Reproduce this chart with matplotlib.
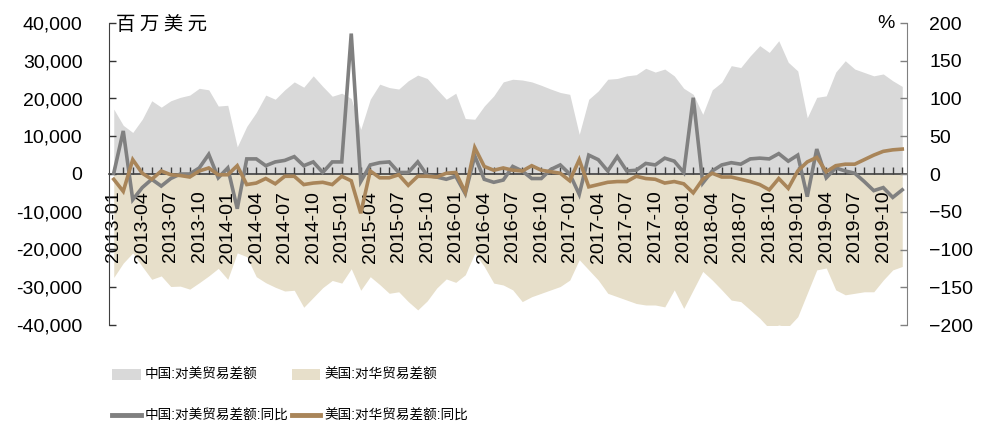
import matplotlib
matplotlib.use("Agg")
import matplotlib.pyplot as plt
from matplotlib.patches import Patch
from matplotlib.lines import Line2D
from matplotlib.ticker import FuncFormatter, MultipleLocator, FixedLocator
import numpy as np
import pandas as pd

# Monthly series, 2013-01 .. 2019-12
months = pd.period_range("2013-01", "2019-12", freq="M").strftime("%Y-%m").tolist()

# China: trade balance with the US (million USD)
cn_balance = [
    17200, 12900, 11000, 14500, 19400, 17700, 19400, 20300, 20900, 22700, 22300, 18000,
    18200, 7200, 12600, 16300, 20900, 19800, 22300, 24400, 23000, 26000, 23200, 20600,
    21400, 20000, 11800, 19800, 23800, 22900, 22500, 24700, 26200, 25300, 22500, 19800,
    21400, 14700, 14500, 18000, 20700, 24400, 25100, 24900, 24400, 23500, 22500, 21600,
    21100, 10500, 19800, 22000, 25100, 25300, 26000, 26300, 28000, 27000, 27800, 26000,
    22700, 21100, 15800, 22300, 24300, 28700, 28200, 31300, 34000, 32200, 35300, 29600,
    27300, 14900, 20300, 20700, 27000, 30000, 27800, 26900, 26000, 26500, 24700, 23200,
]

# US: trade balance with China (million USD)
us_balance = [
    -27400, -23600, -20900, -24500, -27900, -27000, -29800, -29700, -30500, -28800, -27000, -25000,
    -27900, -20900, -21900, -27200, -28800, -30000, -31000, -30800, -35300, -32700, -30100, -28200,
    -28900, -25100, -30800, -27200, -29300, -31600, -31200, -33800, -36000, -33600, -30200, -27800,
    -28700, -26700, -21000, -24500, -28900, -29400, -30700, -33800, -32500, -31600, -30700, -29800,
    -28100, -22700, -25400, -28100, -31600, -32500, -33400, -34300, -34700, -34700, -35200, -30700,
    -35600, -30700, -25800, -28100, -30700, -33400, -33800, -36000, -38200, -40900, -40000, -40500,
    -37800, -31600, -25400, -24900, -30700, -32000, -31600, -31200, -31200, -28100, -25400, -24500,
]

# Year-on-year change (%)
cn_yoy = [
    1, 57, -34, -18, -7, -16, -6, 0, 0, 8, 26, -5,
    8, -46, 20, 20, 11, 16, 18, 23, 11, 16, 2, 16,
    16, 186, -10, 12, 15, 16, 2, 2, 16, -2, -4, -7,
    -3, -26, 24, -7, -11, -8, 10, 4, -6, -6, 6, 12,
    0, -27, 25, 19, 4, 23, 4, 5, 14, 12, 21, 17,
    2, 101, -12, 4, 12, 15, 13, 20, 21, 20, 27, 17,
    25, -30, 33, -5, 8, 4, 1, -10, -22, -18, -31, -21,
]

us_yoy = [
    -7, -23, 19, 1, -7, 4, -1, -2, -4, 4, 8, -1,
    -1, 11, -14, -12, -6, -13, -3, -3, -14, -12, -11, -14,
    -3, -9, -52, 4, -5, -5, -1, -15, -3, -3, -4, 1,
    2, -24, 35, 10, 5, 8, 5, 4, 11, 5, 3, 1,
    -9, 19, -17, -14, -11, -10, -10, -3, -6, -7, -12, -10,
    -13, -25, -7, 1, -4, -4, -7, -10, -14, -21, -6, -19,
    4, 16, 22, 3, 11, 13, 13, 19, 25, 30, 32, 33,
]

series_labels = ["中国:对美贸易差额", "美国:对华贸易差额",
                 "中国:对美贸易差额:同比", "美国:对华贸易差额:同比"]

C_CN_AREA = "#d9d9d9"
C_US_AREA = "#e7dfca"
C_CN_LINE = "#808080"
C_US_LINE = "#a98559"

LATIN = ["Liberation Sans", "DejaVu Sans"]
CJK = ["Noto Sans CJK SC", "DejaVu Sans"]
# narrow Latin colon, CJK glyphs from Noto
MIXED = ["Liberation Sans", "Noto Sans CJK SC"]
plt.rcParams["font.family"] = LATIN

W, H = 982, 423
fig = plt.figure(figsize=(W / 100, H / 100), dpi=100)
ax = fig.add_axes([109 / W, 1 - 325 / H, (907 - 109) / W, 302 / H])
ax2 = ax.twinx()

x = np.arange(len(months))
ax.fill_between(x, 0, cn_balance, color=C_CN_AREA, linewidth=0)
ax.fill_between(x, 0, us_balance, color=C_US_AREA, linewidth=0)
ax2.plot(x, cn_yoy, color=C_CN_LINE, lw=2.6, solid_joinstyle="miter")
ax2.plot(x, us_yoy, color=C_US_LINE, lw=2.6, solid_joinstyle="miter")

ax.set_xlim(-0.5, len(months) - 0.5)
ax.set_ylim(-40000, 40000)
ax2.set_ylim(-200, 200)

# left axis
ax.yaxis.set_major_locator(MultipleLocator(10000))
ax.yaxis.set_major_formatter(FuncFormatter(lambda v, p: f"{int(v):,}"))
ax.tick_params(axis="y", direction="in", length=5, width=1, colors="#333333",
               labelcolor="black", labelsize=14, pad=19)
ax.spines["left"].set_color("#404040")
ax.spines["top"].set_visible(False)
ax.spines["right"].set_visible(False)

# horizontal axis sits at zero
ax.spines["bottom"].set_position(("data", 0))
ax.spines["bottom"].set_color("#404040")
ax.spines["bottom"].set_linewidth(1.2)
lab_idx = list(range(0, len(months), 3))
ax.xaxis.set_major_locator(FixedLocator(lab_idx))
ax.xaxis.set_minor_locator(FixedLocator(list(x)))
ax.set_xticklabels([months[i] for i in lab_idx], rotation=90, va="top", ha="center")
ax.tick_params(axis="x", which="both", direction="in", length=5, width=1,
               colors="#404040", labelcolor="black", labelsize=14, pad=12)

# right axis
ax2.yaxis.set_major_locator(MultipleLocator(50))
ax2.tick_params(axis="y", direction="in", length=5, width=1, colors="#808080",
                labelcolor="black", labelsize=14, pad=16)
ax2.spines["right"].set_color("#808080")
for s in ("top", "left", "bottom"):
    ax2.spines[s].set_visible(False)

fig.text(116 / W, 1 - 24 / H, "百 万 美 元", fontsize=14, family=CJK,
         ha="left", va="center")
fig.text(886 / W, 1 - 24 / H, "%", fontsize=14, ha="center", va="center")

handles = [
    Patch(facecolor=C_CN_AREA, edgecolor="none"),
    Line2D([], [], color=C_CN_LINE, lw=3.5),
    Patch(facecolor=C_US_AREA, edgecolor="none"),
    Line2D([], [], color=C_US_LINE, lw=3.5),
]
labels = [series_labels[0], series_labels[2], series_labels[1], series_labels[3]]
fig.legend(handles, labels, ncol=2, loc="upper left",
           bbox_to_anchor=(112 / W, 1 - 368 / H), frameon=False,
           prop={"family": MIXED, "size": 9.8}, handlelength=2.1,
           handleheight=0.85, handletextpad=0.3, columnspacing=0.25,
           labelspacing=2.0, borderpad=0, borderaxespad=0)

fig.savefig("out.png", dpi=100)
